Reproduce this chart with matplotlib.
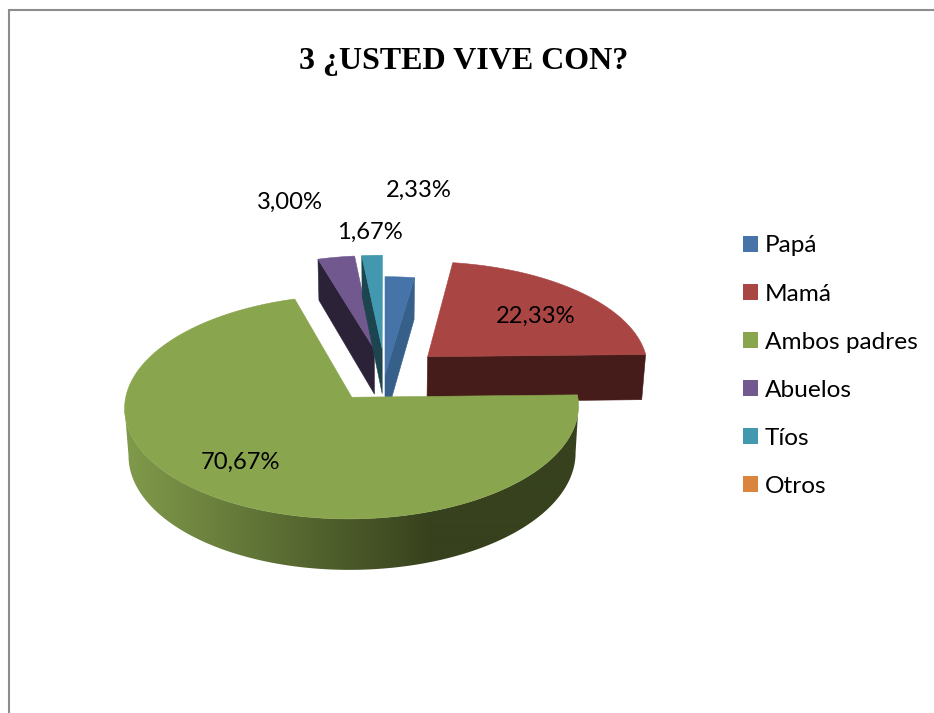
"""Exploded 3D-style pie: ¿Usted vive con? Drawn on a pixel-sized axes."""

import matplotlib

matplotlib.use("Agg")
import matplotlib.pyplot as plt
import numpy as np
from matplotlib.colors import LinearSegmentedColormap
from matplotlib.patches import Patch, Polygon, Rectangle

categories = ["Papá", "Mamá", "Ambos padres", "Abuelos", "Tíos", "Otros"]
values = [2.33, 22.33, 70.67, 3.00, 1.67, 0.0]
explode = [0.0, 0.26, 0.25, 0.25, 0.25, 0.25]
top_colors = ["#4674a8", "#a94543", "#89a54e", "#71588f", "#4198af", "#db843d"]
side_colors = ["#365f8a", "#451c19", "#37411d", "#2c2238", "#1c4550", "#8a5020"]
label_xy = [(419, 190), (536, 316), (240, 462), (290, 202), (370, 232)]

CX, CY = 385.0, 375.0
RX, RY = 222.0, 108.0
PERSP = 0.09
DEPTH = 46.0
SHRINK = 0.985

# side of the big slice: lighter on the left, dark from about x=433
FADE = LinearSegmentedColormap.from_list("fade", ["#7f994a", "#37411d"])
FADE_LEFT, FADE_RIGHT = 130.0, 433.0


def project(x, y, bottom=False):
    # x to the right, y towards the viewer, both in pie radii
    s = 1.0 + PERSP * y
    u = RX * x * s
    v = CY + RY * y * s
    if bottom:
        u = u * SHRINK
        v = v + DEPTH * s
    return CX + u, v


def fill_quad(ax, x0, y0, x1, y1, color, z):
    u0, v0 = project(x0, y0)
    u1, v1 = project(x1, y1)
    u2, v2 = project(x1, y1, bottom=True)
    u3, v3 = project(x0, y0, bottom=True)
    ax.fill([u0, u1, u2, u3], [v0, v1, v2, v3], color=color, lw=0.4, zorder=z)


def draw_gradient_wall(ax, xs, ys, z):
    # one clipped image so the fade has no seams between segments
    ut, vt = project(xs, ys)
    ub, vb = project(xs, ys, bottom=True)
    outline = np.column_stack((np.r_[ut, ub[::-1]], np.r_[vt, vb[::-1]]))
    ramp = np.clip((np.arange(0, 934) + 0.5 - FADE_LEFT) / (FADE_RIGHT - FADE_LEFT), 0.0, 1.0)
    im = ax.imshow(ramp[None, :], cmap=FADE, vmin=0, vmax=1, extent=(0, 934, 713, 0),
                   aspect="auto", zorder=z, interpolation="bilinear")
    clip = Polygon(outline, closed=True, transform=ax.transData)
    im.set_clip_path(clip)


def draw_slice(ax, a0, a1, exp, top, side, z, gradient=False):
    mid = 0.5 * (a0 + a1)
    ox = exp * np.sin(mid)
    oy = -exp * np.cos(mid)
    t = np.linspace(a0, a1, max(8, int(np.degrees(a1 - a0) * 3)))
    xs = ox + np.sin(t)
    ys = oy - np.cos(t)

    if np.sin(a0) < -1e-6:
        fill_quad(ax, ox, oy, xs[0], ys[0], side, z)
    if np.sin(a1) > 1e-6:
        fill_quad(ax, ox, oy, xs[-1], ys[-1], side, z)

    # outer wall runs between the rightmost and leftmost screen points of the arc
    arc_u, _ = project(xs, ys)
    i0, i1 = int(np.argmax(arc_u)), int(np.argmin(arc_u))
    if i1 > i0:
        if gradient:
            draw_gradient_wall(ax, xs[i0 : i1 + 1], ys[i0 : i1 + 1], z)
        else:
            for i in range(i0, i1):
                fill_quad(ax, xs[i], ys[i], xs[i + 1], ys[i + 1], side, z)

    u, v = project(np.r_[ox, xs], np.r_[oy, ys])
    ax.fill(u, v, color=top, lw=0.4, zorder=z + 0.5)


plt.rcParams["font.family"] = ["Lato", "DejaVu Sans"]

fig = plt.figure(figsize=(9.34, 7.13), dpi=100)
ax = fig.add_axes([0, 0, 1, 1])
ax.axis("off")

ax.add_patch(Rectangle((9, 10), 1000, 1000, fc="white", ec="#8c8c8c", lw=1.5, zorder=0))

bounds = np.radians(np.r_[0.0, np.cumsum(values)] * 360.0 / np.sum(values))
order = [3, 4, 0, 1, 2]
for z, i in enumerate(order, start=1):
    draw_slice(ax, bounds[i], bounds[i + 1], explode[i], top_colors[i], side_colors[i], z,
               gradient=(i == 2))

ax.set_xlim(0, 934)
ax.set_ylim(713, 0)

for v, (lx, ly) in zip(values, label_xy):
    ax.text(lx, ly, f"{v:.2f}%".replace(".", ","), ha="center", va="center", fontsize=17.1,
            color="black", zorder=10)

ax.text(464, 61, "3 ¿USTED VIVE CON?", ha="center", va="center", fontsize=23,
        fontweight="bold", family="Liberation Serif", color="black", zorder=10)

handles = [Patch(fc=c, ec="none") for c in top_colors]
ax.legend(handles, categories, loc="upper left", bbox_to_anchor=(743 / 934, 1 - 235.5 / 713),
          frameon=False, fontsize=17.6, handlelength=0.61, handleheight=0.61,
          handletextpad=0.29, labelspacing=1.106, borderpad=0, borderaxespad=0)

fig.savefig("out.png", dpi=100)
